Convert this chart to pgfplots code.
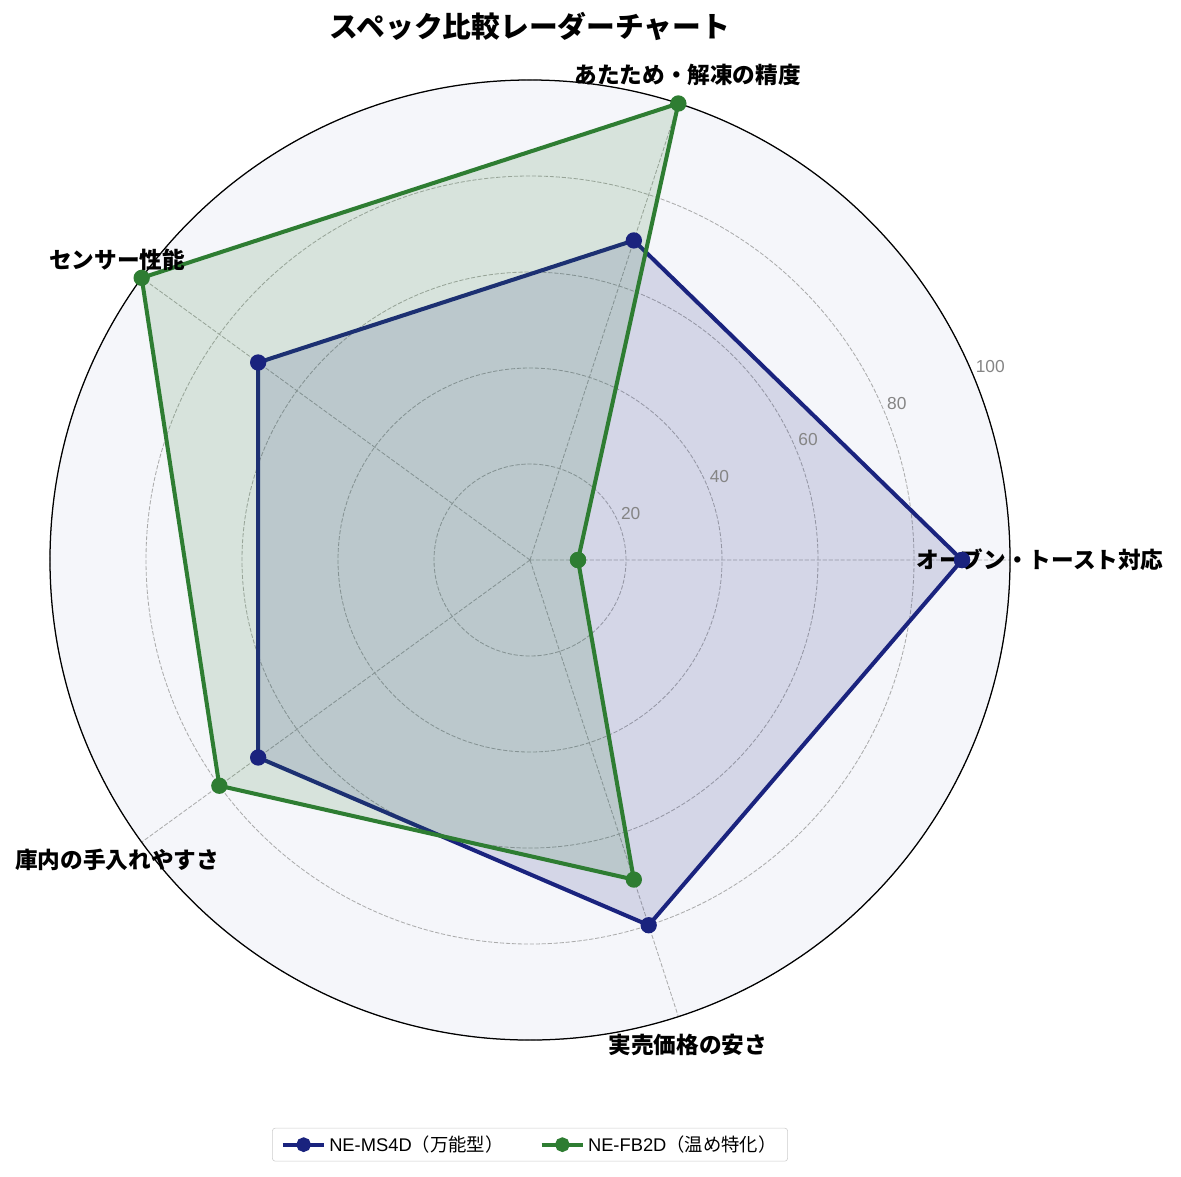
\documentclass[border=0pt]{standalone}
\usepackage{fontspec}
\setmainfont{Noto Sans CJK JP}
\newfontfamily\latin{Liberation Sans}
\usepackage{pgfplots}
\pgfplotsset{compat=1.18}
\usepgfplotslibrary{polar}

\definecolor{navy}{HTML}{1A237E}
\definecolor{leaf}{HTML}{2E7D32}
\definecolor{panel}{HTML}{F5F6FA}
\definecolor{gridc}{HTML}{ABABAB}
\definecolor{tickc}{HTML}{858585}

\begin{document}
\begin{tikzpicture}[
  rtick/.style={anchor=south west, inner sep=0pt, xshift=1.5pt, yshift=2.5pt, text=tickc,
    font=\latin\fontsize{12.5pt}{15pt}\selectfont},
  cat/.style={font=\bfseries\fontsize{16.3pt}{19pt}\selectfont, anchor=center},
]
\begin{polaraxis}[
  width=691.2pt, height=691.2pt, scale only axis,
  xmin=0, xmax=360, ymin=0, ymax=100,
  xtick={0,72,144,216,288}, xticklabels={},
  ytick={20,40,60,80,100}, yticklabels={},
  grid=major,
  major grid style={gridc, line width=0.6pt, dash pattern=on 3pt off 1.3pt},
  major tick length=0pt,
  x axis line style={black, line width=0.9pt},
  y axis line style={draw=none},
  axis background/.style={fill=panel},
  clip=false,
  legend columns=2,
  legend cell align=left,
  legend style={at={(0.5,-0.109)}, anchor=center, draw=black!20, rounded corners=2pt,
    font=\fontsize{13.2pt}{15pt}\selectfont, inner xsep=6pt, inner ysep=3.5pt,
    /tikz/every even column/.append style={column sep=24pt}},
  legend image code/.code={\draw[#1, mark size=3.8pt, mark repeat=2, mark phase=2]
    plot coordinates {(0pt,0pt) (15pt,0pt) (30pt,0pt)};},
]
% 万能型
\addplot[draw=none, fill=navy, fill opacity=0.15, forget plot]
  coordinates {(0,90) (72,70) (144,70) (216,70) (288,80) (360,90)};
\addplot[navy, line width=2.9pt, mark=*, mark size=4.4pt, mark options={solid}]
  coordinates {(0,90) (72,70) (144,70) (216,70) (288,80) (360,90)};
% 温め特化
\addplot[draw=none, fill=leaf, fill opacity=0.15, forget plot]
  coordinates {(0,10) (72,100) (144,100) (216,80) (288,70) (360,10)};
\addplot[leaf, line width=2.9pt, mark=*, mark size=4.4pt, mark options={solid}]
  coordinates {(0,10) (72,100) (144,100) (216,80) (288,70) (360,10)};
\legend{{\latin NE-MS4D}（万能型）, {\latin NE-FB2D}（温め特化）}

\coordinate (c) at (axis cs:0,0);
\node[rtick] at (axis cs:22.5,20) {20};
\node[rtick] at (axis cs:22.5,40) {40};
\node[rtick] at (axis cs:22.5,60) {60};
\node[rtick] at (axis cs:22.5,80) {80};
\node[rtick] at (axis cs:22.5,100) {100};
\node[cat] at (axis cs:0,106.3) {オーブン・トースト対応};
\node[cat] at (axis cs:72,106.3) {あたため・解凍の精度};
\node[cat] at (axis cs:144,106.3) {センサー性能};
\node[cat] at (axis cs:216,106.3) {庫内の手入れやすさ};
\node[cat] at (axis cs:288,106.3) {実売価格の安さ};
\end{polaraxis}
\node[yshift=383.8pt, font=\bfseries\fontsize{20.7pt}{24pt}\selectfont] at (c) {スペック比較レーダーチャート};
\pgfresetboundingbox
\path[use as bounding box] (c) ++(-381.6pt,-444.2pt) rectangle ++(850.3pt,847.4pt);
\end{tikzpicture}
\end{document}
